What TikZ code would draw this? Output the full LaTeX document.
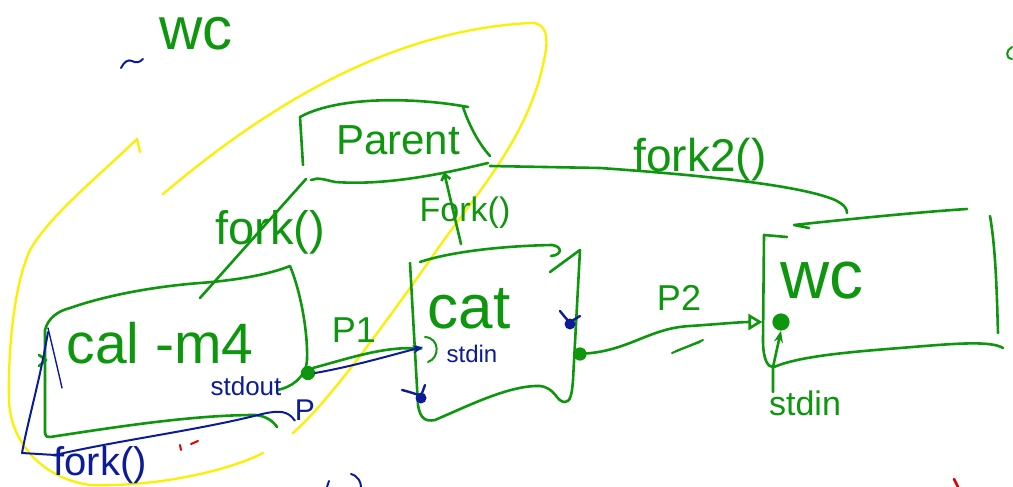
\documentclass[tikz,border=0pt]{standalone}
\usepackage{fontspec}
\setmainfont{Liberation Sans}
\usetikzlibrary{arrows.meta}
\definecolor{pen}{RGB}{14,150,14}
\definecolor{ink}{RGB}{12,28,150}
\definecolor{hl}{RGB}{250,240,0}
\definecolor{redmark}{RGB}{225,0,0}
\tikzset{
  gline/.style={draw=pen,line width=2.6pt,line cap=round,line join=round},
  bline/.style={draw=ink,line width=2pt,line cap=round,line join=round},
  yline/.style={draw=hl,line width=2.3pt,line cap=round,line join=round},
  gtext/.style={text=pen,inner sep=0pt},
  btext/.style={text=ink,inner sep=0pt},
  fs/.style={font=\fontsize{#1}{#1}\selectfont},
  port/.style={circle,draw=pen,fill=pen,line width=1.2pt,inner sep=0pt,minimum size=#1},
  bport/.style={circle,fill=ink,inner sep=0pt,minimum size=11pt},
}
\begin{document}
\begin{tikzpicture}[x=1pt,y=-1pt]
\useasboundingbox (0,0) rectangle (1013,487);
\fill[white] (0,0) rectangle (1013,487);

% ---------- yellow highlight loop ----------
\draw[yline] (140,152) -- (137,139) .. controls (100,175) and (50,215) .. (30,250)
  .. controls (12,290) and (8,360) .. (9,400) .. controls (10,440) and (40,478) .. (90,485)
  .. controls (160,487) and (230,470) .. (263,453);
\draw[yline] (163,194) .. controls (280,95) and (400,30) .. (530,23)
  .. controls (548,22) and (548,40) .. (545,55) .. controls (530,140) and (470,200) .. (430,260)
  .. controls (380,330) and (330,400) .. (293,433);

% ---------- top-left note ----------
\draw[bline] (121,68) .. controls (124,62) and (128,59) .. (132,61) .. controls (136,63) and (139,63) .. (143,59);
\node[gtext,fs=60] (note) at (196,34) {wc};

% ---------- Parent box ----------
\draw[gline] (303,165) -- (300,117) .. controls (340,95) and (420,98) .. (468,107);
\draw[gline] (463,107) .. controls (470,128) and (480,145) .. (490,156);
\draw[gline] (311,180) .. controls (318,177) and (326,180) .. (335,182) .. controls (390,186) and (450,172) .. (488,163);
\node[gtext,fs=42] (parent) at (398,140) {Parent};
\coordinate (parentSW) at (306,179);
\coordinate (parentS) at (444,172);
\coordinate (parentE) at (490,166);

% ---------- cal -m4 box ----------
\draw[gline] (45,433) -- (45,330) .. controls (48,318) and (58,311) .. (70,308)
  .. controls (110,294) and (160,286) .. (200,283) .. controls (240,280) and (270,274) .. (290,266)
  .. controls (300,290) and (308,330) .. (307,360) .. controls (306,378) and (290,388) .. (277,390);
\draw[gline] (45,433) .. controls (46,437) and (47,437) .. (50,437)
  .. controls (110,428) and (190,415) .. (255,415) .. controls (266,416) and (273,421) .. (277,427);
\draw[gline] (39,355) -- (46,360) -- (39,366);
\node[gtext,fs=57] (cal) at (160,343) {cal -m4};
\coordinate (calN) at (200,298);
\coordinate (calW) at (48,332);

% ---------- cat box ----------
\draw[gline] (410,263) -- (418,405) .. controls (420,418) and (425,422) .. (435,420)
  .. controls (470,405) and (510,385) .. (540,386) .. controls (556,388) and (556,402) .. (565,402)
  .. controls (570,402) and (572,395) .. (573,380) -- (580,250) -- (550,272);
\draw[gline] (420,262) .. controls (450,252) and (500,246) .. (552,245)
  .. controls (562,246) and (563,255) .. (551,256);
\node[gtext,fs=62] (cat) at (469,309) {cat};

% ---------- wc box ----------
\draw[gline] (809,228) -- (794,225) .. controls (850,219) and (920,212) .. (967,209);
\draw[gline] (787,237) -- (764,235) -- (763,340) .. controls (763,360) and (768,368) .. (774,367)
  .. controls (800,356) and (850,352) .. (900,348) .. controls (950,344) and (990,340) .. (1003,348);
\draw[gline] (990,216) .. controls (996,250) and (997,300) .. (998,333);
\node[gtext,fs=68] (wc) at (822,281) {wc};

% ---------- ports ----------
\node[port=13pt] (calout) at (308,373) {};
\coordinate (catin) at (423,349);
\draw[gline,line width=2pt] (425,337) .. controls (440,338) and (440,358) .. (428,362);
\node[port=12pt] (catout) at (580,354) {};
\node[port=16pt] (wcin) at (781,322) {};
\node[bport] (caterr) at (421,398) {};
\draw[bline,line width=2.4pt] (402,390) .. controls (410,392) and (416,394) .. (421,396) -- (425,385);
\node[bport] (catmark) at (570,324) {};
\draw[bline,line width=2.4pt] (560,311) .. controls (564,316) and (567,320) .. (570,322) -- (580,316);

% ---------- connectors ----------
\draw[gline] (parentSW) -- (calN);
\node[gtext,fs=47] (fork1) at (270,232) {fork()};

\coordinate (midfork) at (461,244);
\draw[gline,-{Straight Barb[length=6pt,width=9pt]}] (midfork) -- (parentS);
\node[gtext,fs=34] (fork2lbl) at (465,213) {Fork()};

\coordinate (wcN) at (847,213);
\draw[gline] (parentE) -- (600,168) .. controls (700,175) and (800,185) .. (835,200)
  .. controls (845,205) and (847,209) .. (wcN);
\node[gtext,fs=46] (fork3) at (700,160) {fork2()};

% p1 : cal stdout -> cat stdin
\draw[gline,-{Stealth[length=9pt,width=8pt]}] (calout.north east) .. controls (350,358) and (385,346) .. (catin);
\draw[bline,-{Stealth[length=10pt,width=8pt]}] (calout.east) .. controls (355,366) and (395,354) .. ([yshift=2pt]catin);
\node[gtext,fs=36] (p1) at (354,330) {P1};
\node[btext,fs=26] (stdout) at (246,386) {stdout};
\node[btext,fs=24] (stdin1) at (472,354) {stdin};

% p2 : cat stdout -> wc stdin
\draw[gline,-{Triangle[open,length=14pt,width=16pt]},shorten >=10pt] (catout) .. controls (630,350) and (650,328) .. (690,326)
  .. controls (720,324) and (740,322) .. (wcin.west);
\node[gtext,fs=36] (p2) at (679,298) {P2};
\draw[gline,line width=2pt] (672,353) -- (703,340);
\draw[gline,line width=2pt] (676,351) -- (700,342);

% wc stdin
\node[gtext,fs=34] (stdin2) at (805,403) {stdin};
\coordinate (wcs) at (773,392);
\draw[gline,-{Stealth[open,length=12pt,width=9pt]}] (wcs) -- (773,367) -- (wcin.south);

% blue fork() path along the left
\node[btext,fs=40] (forkb) at (100,465) {fork()};
\node[btext,fs=30] (bp) at (305,410) {P};
\draw[bline] (calW) .. controls (40,380) and (28,420) .. (22,453) -- (55,455)
  .. controls (120,440) and (200,430) .. (262,414) .. controls (280,410) and (288,411) .. (bp.south west);
\draw[bline,line width=1.4pt] (48,328) .. controls (52,345) and (58,370) .. (62,388);

% ---------- small stray marks ----------
\draw[draw=redmark,line width=2pt,line cap=round] (180,445) -- (181,450);
\draw[draw=redmark,line width=2pt,line cap=round] (191,444) -- (198,441);
\draw[draw=redmark,line width=2.5pt,line cap=round] (954,479) -- (958,487);
\draw[gline,line width=2pt] (1012,47) .. controls (1006,50) and (1005,58) .. (1012,59);
\draw[bline] (329,481) -- (327,487);
\draw[bline] (351,474) .. controls (358,476) and (361,482) .. (361,487);
\end{tikzpicture}
\end{document}
